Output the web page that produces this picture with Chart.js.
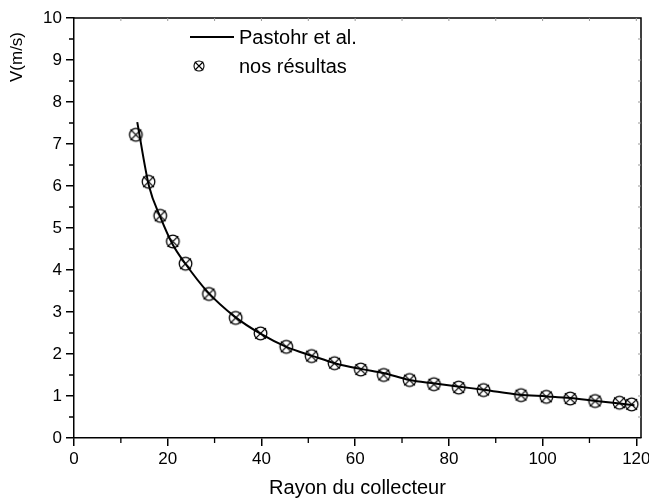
<!DOCTYPE html>
<html>
<head>
<meta charset="utf-8">
<script src="https://cdn.jsdelivr.net/npm/chart.js@4/dist/chart.umd.min.js"></script>
<style>
html,body{margin:0;padding:0;background:#fff;}
#wrap{width:649px;height:499px;position:relative;}
</style>
</head>
<body>
<div id="wrap"><canvas id="c" width="649" height="499"></canvas></div>
<script>
// ---- data ----
const lineX = [13.5, 16.0, 18.5, 21.0, 23.7, 28.5, 34.3, 39.7, 45.3, 51.0, 56.0, 61.5, 66.0, 71.6, 77.0, 82.3, 87.4, 95.0, 101.0, 106.0, 111.4, 116.5, 119.6];
const lineY = [7.52, 6.00, 5.24, 4.62, 4.16, 3.48, 2.89, 2.49, 2.17, 1.95, 1.77, 1.64, 1.55, 1.38, 1.30, 1.22, 1.15, 1.03, 0.99, 0.95, 0.88, 0.82, 0.78];
const ptsX = [13.2, 15.9, 18.4, 21.1, 23.8, 28.8, 34.5, 39.8, 45.3, 50.7, 55.6, 61.2, 66.1, 71.6, 76.8, 82.1, 87.4, 95.4, 100.8, 105.9, 111.2, 116.4, 119.0];
const ptsY = [7.22, 6.10, 5.29, 4.68, 4.15, 3.43, 2.86, 2.49, 2.17, 1.95, 1.78, 1.63, 1.50, 1.38, 1.28, 1.20, 1.14, 1.02, 0.98, 0.94, 0.88, 0.84, 0.80];
const seriesNames = ['Pastohr et al.', 'nos résultas'];
const xTitle = 'Rayon du collecteur';
const yTitle = 'V(m/s)';
const xTicks = [0, 20, 40, 60, 80, 100, 120];
const yTicks = [0, 1, 2, 3, 4, 5, 6, 7, 8, 9, 10];

const FONT = "'Liberation Sans', Arial, sans-serif";

function makeMarker(r, lw) {
  const s = Math.ceil(r * 2 + 4);
  const cv = document.createElement('canvas');
  cv.width = s; cv.height = s;
  const g = cv.getContext('2d');
  const c = s / 2;
  g.strokeStyle = '#000';
  g.lineWidth = lw;
  g.beginPath(); g.arc(c, c, r, 0, Math.PI * 2); g.stroke();
  const d = r * 0.85;
  g.beginPath();
  g.moveTo(c - d, c - d); g.lineTo(c + d, c + d);
  g.moveTo(c + d, c - d); g.lineTo(c - d, c + d);
  g.stroke();
  return cv;
}
const marker = makeMarker(6.3, 1.3);
const legendMarker = makeMarker(5, 1.1);

const decor = {
  id: 'decor',
  afterDraw(chart) {
    const ctx = chart.ctx;
    const a = chart.chartArea;
    const xs = chart.scales.x, ys = chart.scales.y;
    ctx.save();
    // frame top/right
    ctx.strokeStyle = '#000';
    ctx.lineWidth = 1.5;
    ctx.beginPath();
    ctx.moveTo(a.left, a.top); ctx.lineTo(a.right, a.top); ctx.lineTo(a.right, a.bottom);
    ctx.stroke();
    // minor ticks outward
    ctx.lineWidth = 1.3;
    ctx.beginPath();
    for (let v = 10; v < 121; v += 20) {
      const px = xs.getPixelForValue(v);
      ctx.moveTo(px, a.bottom); ctx.lineTo(px, a.bottom + 5);
    }
    for (let v = 0.5; v < 10; v += 1) {
      const py = ys.getPixelForValue(v);
      ctx.moveTo(a.left, py); ctx.lineTo(a.left - 5, py);
    }
    ctx.stroke();
    // faint inward ticks top and right
    ctx.strokeStyle = '#999';
    ctx.lineWidth = 1;
    ctx.beginPath();
    for (let v = 10; v < 121; v += 10) {
      const px = xs.getPixelForValue(v);
      ctx.moveTo(px, a.top); ctx.lineTo(px, a.top + 3);
    }
    for (let v = 0.5; v < 10; v += 0.5) {
      const py = ys.getPixelForValue(v);
      ctx.moveTo(a.right, py); ctx.lineTo(a.right - 3, py);
    }
    ctx.stroke();
    // titles
    ctx.fillStyle = '#000';
    ctx.font = '20px ' + FONT;
    ctx.textAlign = 'center';
    ctx.textBaseline = 'middle';
    ctx.fillText(xTitle, (a.left + a.right) / 2, 488);
    ctx.save();
    ctx.translate(17, 57);
    ctx.rotate(-Math.PI / 2);
    ctx.font = '17px ' + FONT;
    ctx.fillText(yTitle, 0, 0);
    ctx.restore();
    // legend
    ctx.strokeStyle = '#000';
    ctx.lineWidth = 2;
    ctx.beginPath(); ctx.moveTo(190, 37); ctx.lineTo(234, 37); ctx.stroke();
    ctx.drawImage(legendMarker, 199 - legendMarker.width / 2, 66 - legendMarker.height / 2);
    ctx.font = '20px ' + FONT;
    ctx.textAlign = 'left';
    ctx.fillText(seriesNames[0], 239, 38);
    ctx.fillText(seriesNames[1], 239, 67);
    ctx.restore();
  }
};

new Chart(document.getElementById('c'), {
  type: 'scatter',
  data: {
    datasets: [
      {
        label: seriesNames[1],
        data: ptsX.map((x, i) => ({ x: x, y: ptsY[i] })),
        pointStyle: marker,
        pointRadius: 7,
        showLine: false,
        order: 1
      },
      {
        label: seriesNames[0],
        data: lineX.map((x, i) => ({ x: x, y: lineY[i] })),
        showLine: true,
        borderColor: '#000',
        borderWidth: 2,
        pointRadius: 0,
        cubicInterpolationMode: 'monotone',
        order: 0
      }
    ]
  },
  options: {
    responsive: false,
    animation: false,
    layout: { padding: { left: 0, right: 8, top: 18, bottom: 0 } },
    plugins: { legend: { display: false }, tooltip: { enabled: false } },
    scales: {
      x: {
        type: 'linear',
        min: 0, max: 121,
        afterFit(s) { s.height = 61; s.paddingLeft = 0; s.paddingRight = 0; },
        afterBuildTicks(s) { s.ticks = xTicks.map(v => ({ value: v })); },
        ticks: { stepSize: 20, includeBounds: false, color: '#000', padding: 3,
                 font: { family: FONT, size: 17 }, maxRotation: 0 },
        grid: { drawOnChartArea: false, tickLength: 8, color: '#000', lineWidth: 1.5 },
        border: { color: '#000', width: 1.5 }
      },
      y: {
        type: 'linear',
        min: 0, max: 10,
        afterFit(s) { s.width = 74; s.paddingTop = 0; s.paddingBottom = 0; },
        afterBuildTicks(s) { s.ticks = yTicks.map(v => ({ value: v })); },
        ticks: { stepSize: 1, color: '#000', padding: 4,
                 font: { family: FONT, size: 17 } },
        grid: { drawOnChartArea: false, tickLength: 8, color: '#000', lineWidth: 1.5 },
        border: { color: '#000', width: 1.5 }
      }
    }
  },
  plugins: [decor]
});
</script>
</body>
</html>
